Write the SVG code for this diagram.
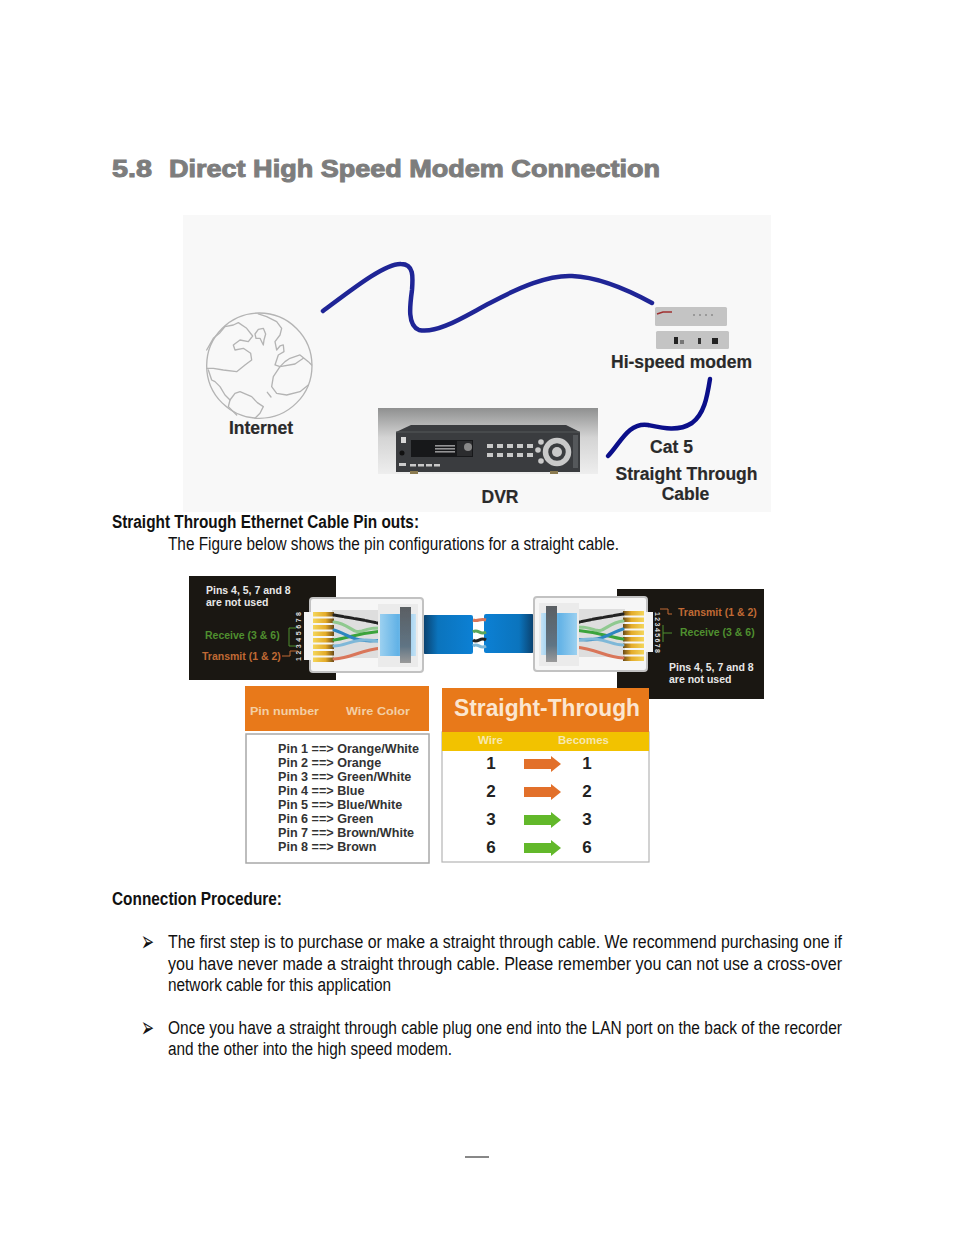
<svg xmlns="http://www.w3.org/2000/svg" width="954" height="1235" viewBox="0 0 954 1235">
<style>
text{font-family:"Liberation Sans",Arial,sans-serif}
.body{font-size:18px;fill:#111}
.bh{font-size:18px;font-weight:bold;fill:#111}
.lab{font-weight:bold;fill:#2a2a2a;font-size:17.500px;stroke:#2a2a2a;stroke-width:.2px}
.cable{fill:none;stroke:#1f2596;stroke-width:4.500px;stroke-linecap:round;stroke-linejoin:round}
.land{fill:none;stroke:#b4b4b4;stroke-width:4px;stroke-linejoin:round;stroke-linecap:round}
.pin{font-size:12.600px;font-weight:bold;fill:#333}
.num{font-size:17px;font-weight:bold;fill:#222;text-anchor:middle}
.sm{font-size:10.500px;font-weight:bold}
.wire{fill:none;stroke-width:3px;stroke-linecap:round}
.btn{fill:#c9c9c9}
.bul{font-size:28px;fill:#111}
</style>
<defs>
<linearGradient id="dvrBg" x1="0" y1="0" x2="0" y2="1"><stop offset="0" stop-color="#8f9090"/><stop offset=".45" stop-color="#d4d4d4"/><stop offset="1" stop-color="#eeeeee"/></linearGradient>
<linearGradient id="blueL" x1="0" y1="0" x2="1" y2="0"><stop offset="0" stop-color="#0a3f6b"/><stop offset=".3" stop-color="#0b74bd"/><stop offset="1" stop-color="#0c80d4"/></linearGradient>
<linearGradient id="blueR" x1="0" y1="0" x2="1" y2="0"><stop offset="0" stop-color="#0c80d4"/><stop offset=".7" stop-color="#0b74bd"/><stop offset="1" stop-color="#0a3f6b"/></linearGradient>
<linearGradient id="boot" x1="0" y1="0" x2="1" y2="0"><stop offset="0" stop-color="#9bd0f0"/><stop offset=".5" stop-color="#62b2e6"/><stop offset="1" stop-color="#c4e2f5"/></linearGradient>
<linearGradient id="latch" x1="0" y1="0" x2="0" y2="1"><stop offset="0" stop-color="#5a5f63"/><stop offset=".7" stop-color="#5f7484"/><stop offset="1" stop-color="#9a9a9a"/></linearGradient>
<linearGradient id="goldpin" x1="0" y1="0" x2="1" y2="0"><stop offset="0" stop-color="#f4d65a"/><stop offset=".6" stop-color="#e4ab2a"/><stop offset="1" stop-color="#6a4a18"/></linearGradient>
<filter id="soft" x="-5%" y="-5%" width="110%" height="110%"><feGaussianBlur stdDeviation=".6"/></filter>
<g id="plug">
<rect x="0" y="0" width="113" height="74" rx="3" fill="#f6f6f6" stroke="#c2c2c2" stroke-width="2"/>
<path d="M22 12H72V60H22Z" fill="#dedede"/>
<g fill="url(#goldpin)">
<rect x="3" y="14" width="21" height="4.500"/><rect x="3" y="20.500" width="21" height="4.500"/><rect x="3" y="27" width="21" height="4.500"/><rect x="3" y="33.500" width="21" height="4.500"/><rect x="3" y="40" width="21" height="4.500"/><rect x="3" y="46.500" width="21" height="4.500"/><rect x="3" y="53" width="21" height="4.500"/><rect x="3" y="59.500" width="21" height="4.500"/>
</g>
<path class="wire" style="stroke:#222" stroke-dasharray="9 2" d="M24 17C40 20 50 21 72 26"/>
<path class="wire" style="stroke:#8fc98f" d="M24 24C40 26 42 36 52 33C60 30 64 30 72 30"/>
<path class="wire" style="stroke:#3aa33a" d="M24 42C38 40 44 36 72 33"/>
<path class="wire" style="stroke:#2f86c0" d="M24 32C38 36 44 46 72 42"/>
<path class="wire" style="stroke:#7fb8d8" d="M24 48C38 48 44 38 72 44"/>
<path class="wire" style="stroke:#d9765a" d="M24 61C42 60 50 52 72 50"/>
<rect x="68" y="6" width="40" height="63" fill="#ebebeb"/>
<rect x="70" y="16" width="36" height="42" fill="url(#boot)"/>
<rect x="90" y="9" width="11" height="56" fill="url(#latch)"/>
</g>
</defs>
<rect width="954" height="1235" fill="#fff"/>
<g id="title"><text x="112" y="177" font-size="24" font-weight="bold" fill="#7d7d7d" stroke="#7d7d7d" stroke-width="1" textLength="40" lengthAdjust="spacingAndGlyphs">5.8</text><text x="169" y="177" font-size="24" font-weight="bold" fill="#7d7d7d" stroke="#7d7d7d" stroke-width="1" textLength="491" lengthAdjust="spacingAndGlyphs">Direct High Speed Modem Connection</text></g>
<rect id="network-panel" x="183" y="215" width="588" height="297" fill="#f8f8f8"/>
<g id="internet">
<g transform="translate(180 210) scale(.3333)">
<circle cx="238" cy="467" r="158" class="land"/>
<path class="land" d="M80 420L100 385L120 368L135 350L160 345L175 338L200 355L218 378L205 395L180 390L160 405L165 420L190 415L212 430L215 450L195 465L170 485L130 480L100 475L80 475"/>
<path class="land" d="M85 480L95 510L105 515L120 530L135 555L150 570L165 550L180 545L215 560L232 578L250 590L240 610L225 625"/>
<path class="land" d="M150 570L145 590L170 615"/>
<path class="land" d="M235 312L260 320L290 335L305 355L300 375L285 395L290 420L300 408L310 405L312 425L295 435L285 465L300 470L315 455L330 445L360 435L385 455L395 465"/>
<path class="land" d="M300 470L345 462L370 445M300 470L280 500L275 530L290 550L320 555L360 545L385 525"/>
<path class="land" d="M225 372L235 358L250 355L257 372L252 390L250 405L240 385L228 385Z"/>
<path class="land" d="M262 547L273 561"/>
</g>
<text class="lab" x="261" y="434" text-anchor="middle">Internet</text>
</g>
<g id="dvr">
<rect x="378" y="408" width="220" height="66" fill="url(#dvrBg)"/>
<path d="M396 432L411 425H566L580 432V472H396Z" fill="#3a3c3f"/>
<path d="M396 432H580" stroke="#55585b"/>
<rect x="411" y="440" width="62" height="17" fill="#17181a"/>
<rect x="457" y="441" width="15" height="15" fill="#2b2c2e"/>
<circle cx="468" cy="447" r="4" fill="#888"/>
<g class="btn" opacity=".7"><rect x="435" y="445" width="20" height="1.600"/><rect x="435" y="448" width="20" height="1.600"/><rect x="435" y="451" width="20" height="1.600"/></g>
<rect x="401" y="437" width="5" height="6" fill="#d8d8d8"/>
<circle cx="402" cy="453" r="2.500" fill="#111"/>
<rect x="399" y="463" width="7" height="3" fill="#ccc"/>
<g class="btn"><rect x="410" y="464" width="6" height="2.500"/><rect x="418" y="464" width="6" height="2.500"/><rect x="426" y="464" width="6" height="2.500"/><rect x="434" y="464" width="6" height="2.500"/>
<rect x="487" y="444" width="6" height="4"/><rect x="497" y="444" width="6" height="4"/><rect x="507" y="444" width="6" height="4"/><rect x="517" y="444" width="6" height="4"/><rect x="527" y="444" width="6" height="4"/>
<rect x="487" y="453" width="6" height="4"/><rect x="497" y="453" width="6" height="4"/><rect x="507" y="453" width="6" height="4"/><rect x="517" y="453" width="6" height="4"/><rect x="527" y="453" width="6" height="4"/>
<circle cx="541" cy="442" r="2.800"/><circle cx="538" cy="450" r="2.800"/><circle cx="541" cy="461" r="2.800"/></g>
<circle cx="557" cy="452" r="11.500" fill="none" stroke="#c9c9c9" stroke-width="5.500"/>
<circle cx="557" cy="452" r="5" fill="#c9c9c9"/>
<path d="M573 435H578V468H573Z" fill="#55585b"/>
<rect x="410" y="471" width="8" height="3" fill="#8b7a50"/><rect x="550" y="471" width="8" height="3" fill="#8b7a50"/>
<text class="lab" x="500" y="503" text-anchor="middle">DVR</text>
</g>
<g id="modem">
<rect x="655" y="307" width="72" height="19" rx="1.500" fill="#c4c4c4"/>
<path d="M657 314L663 312H672" stroke="#a03030" stroke-width="1.500" fill="none"/>
<path d="M693 315H715" stroke="#999" stroke-width="2" stroke-dasharray="2 4"/>
<rect x="656" y="331" width="73" height="18" rx="1.500" fill="#c4c4c4"/>
<rect x="674" y="337" width="4" height="7" fill="#222"/><rect x="680" y="340" width="4" height="4" fill="#777"/><rect x="698" y="338" width="3" height="6" fill="#333"/><rect x="712" y="338" width="6" height="6" fill="#222"/>
<text class="lab" x="681.500" y="368" text-anchor="middle">Hi-speed modem</text>
</g>
<g id="cat5-label">
<text class="lab" x="671.500" y="453" text-anchor="middle">Cat 5</text>
<text class="lab" x="686.500" y="480" text-anchor="middle">Straight Through</text>
<text class="lab" x="685.500" y="500" text-anchor="middle">Cable</text>
</g>
<g id="connectors">
<path class="cable" d="M323 311C350 291 385 263 401 264C414 264 413 277 412 290C410 305 407 325 419 330C438 334 465 316 490 303C520 287 548 275 572 276C600 277 630 291 652 303"/>
<path class="cable" style="stroke:#0b0f8a" d="M710 379C707 398 704 414 692 423C678 432 662 428 648 425C628 422 620 444 608 456"/>
</g>
<text class="bh" x="112" y="528" textLength="307" lengthAdjust="spacingAndGlyphs">Straight Through Ethernet Cable Pin outs:</text>
<text class="body" x="168" y="550" textLength="451" lengthAdjust="spacingAndGlyphs">The Figure below shows the pin configurations for a straight cable.</text>
<g id="ethernet-plugs">
<rect x="189" y="576" width="147" height="104" fill="#1a1712"/>
<rect x="617" y="589" width="147" height="110" fill="#1a1712"/>
<rect x="423" y="615" width="50" height="39" rx="2" fill="url(#blueL)"/>
<rect x="484" y="614" width="50" height="39" rx="2" fill="url(#blueR)"/>
<g filter="url(#soft)">
<path d="M473 620C478 622 480 618 486 620" stroke="#d9765a" stroke-width="3" fill="none"/>
<path d="M473 632C478 628 480 636 486 632" stroke="#5aa55a" stroke-width="3" fill="none"/>
<path d="M473 640C478 644 480 636 486 640" stroke="#222" stroke-width="3" fill="none"/>
<path d="M473 646C478 642 480 650 486 646" stroke="#7fb8d8" stroke-width="3" fill="none"/>
</g>
<g filter="url(#soft)">
<use href="#plug" x="310" y="598"/>
<use href="#plug" transform="translate(647 597) scale(-1 1)"/>
</g>
<path d="M311 612H304V660H311" fill="#f4f4f4"/>
<path d="M646 612H653V652H646" fill="#f4f4f4"/>
<g fill="#e8e8e8" class="sm">
<text x="206" y="594">Pins 4, 5, 7 and 8</text>
<text x="206" y="606">are not used</text>
<text x="669" y="671">Pins 4, 5, 7 and 8</text>
<text x="669" y="683">are not used</text>
</g>
<g class="sm">
<text x="205" y="639" fill="#4f8f2f">Receive (3 &amp; 6)</text>
<text x="202" y="660" fill="#c06a35">Transmit (1 &amp; 2)</text>
<text x="678" y="616" fill="#c06a35">Transmit (1 &amp; 2)</text>
<text x="680" y="636" fill="#4f8f2f">Receive (3 &amp; 6)</text>
</g>
<text transform="translate(301 661) rotate(-90)" font-size="7" font-weight="bold" fill="#ddd" textLength="49">1 2 3 4 5 6 7 8</text>
<text transform="translate(655 612) rotate(90)" font-size="7" font-weight="bold" fill="#ddd" textLength="41">1 2 3 4 5 6 7 8</text>
<path d="M296 628H289V646H296" fill="none" stroke="#4f8f2f"/>
<path d="M282 656H290V651H298" fill="none" stroke="#c06a35"/>
<path d="M660 609H668V614H672" fill="none" stroke="#c06a35"/>
<path d="M663 625V642M663 633H672" fill="none" stroke="#4f8f2f"/>
</g>
<g id="pin-table">
<rect x="245" y="686" width="184" height="45" fill="#e8791a"/>
<text class="sm" x="250" y="715" fill="#f3cfa5" style="font-size:11.500px" textLength="69" lengthAdjust="spacingAndGlyphs">Pin number</text>
<text class="sm" x="346" y="715" fill="#f3cfa5" style="font-size:11.500px" textLength="64" lengthAdjust="spacingAndGlyphs">Wire Color</text>
<rect x="246" y="734" width="183" height="129" fill="#fff" stroke="#a8a8a8" stroke-width="1.500"/>
<text class="pin" x="278" y="753">Pin 1 ==&gt; Orange/White</text>
<text class="pin" x="278" y="767">Pin 2 ==&gt; Orange</text>
<text class="pin" x="278" y="781">Pin 3 ==&gt; Green/White</text>
<text class="pin" x="278" y="795">Pin 4 ==&gt; Blue</text>
<text class="pin" x="278" y="809">Pin 5 ==&gt; Blue/White</text>
<text class="pin" x="278" y="823">Pin 6 ==&gt; Green</text>
<text class="pin" x="278" y="837">Pin 7 ==&gt; Brown/White</text>
<text class="pin" x="278" y="851">Pin 8 ==&gt; Brown</text>
</g>
<g id="straight-through-table">
<rect x="442" y="732" width="207" height="130" fill="#fff" stroke="#b5b5b5" stroke-width="1.200"/>
<rect x="442" y="688" width="207" height="44" fill="#e8791a"/>
<rect x="442" y="732" width="207" height="19" fill="#f2c200"/>
<text x="454" y="716" font-size="24" font-weight="bold" fill="#fbe6d0" textLength="186" lengthAdjust="spacingAndGlyphs">Straight-Through</text>
<text class="sm" x="478" y="744" fill="#f6e7b0" textLength="25" lengthAdjust="spacingAndGlyphs">Wire</text>
<text class="sm" x="558" y="744" fill="#f6e7b0" textLength="51" lengthAdjust="spacingAndGlyphs">Becomes</text>
<text class="num" x="491" y="769">1</text><text class="num" x="587" y="769">1</text>
<text class="num" x="491" y="797">2</text><text class="num" x="587" y="797">2</text>
<text class="num" x="491" y="825">3</text><text class="num" x="587" y="825">3</text>
<text class="num" x="491" y="853">6</text><text class="num" x="587" y="853">6</text>
<path fill="#e2702a" d="M524 759H551V756L561 764L551 772V769H524Z"/>
<path fill="#e2702a" d="M524 787H551V784L561 792L551 800V797H524Z"/>
<path fill="#62b82a" d="M524 815H551V812L561 820L551 828V825H524Z"/>
<path fill="#62b82a" d="M524 843H551V840L561 848L551 856V853H524Z"/>
</g>
<text class="bh" x="112" y="905" textLength="170" lengthAdjust="spacingAndGlyphs">Connection Procedure:</text>
<g id="procedure">
<text class="bul" x="141" y="951" textLength="13" lengthAdjust="spacingAndGlyphs" style="font-family:'DejaVu Sans',sans-serif">➢</text>
<text class="body" x="168" y="948" textLength="674" lengthAdjust="spacingAndGlyphs">The first step is to purchase or make a straight through cable. We recommend purchasing one if</text>
<text class="body" x="168" y="970" textLength="674" lengthAdjust="spacingAndGlyphs">you have never made a straight through cable. Please remember you can not use a cross-over</text>
<text class="body" x="168" y="991" textLength="223" lengthAdjust="spacingAndGlyphs">network cable for this application</text>
<text class="bul" x="141" y="1037" textLength="13" lengthAdjust="spacingAndGlyphs" style="font-family:'DejaVu Sans',sans-serif">➢</text>
<text class="body" x="168" y="1034" textLength="674" lengthAdjust="spacingAndGlyphs">Once you have a straight through cable plug one end into the LAN port on the back of the recorder</text>
<text class="body" x="168" y="1055" textLength="284" lengthAdjust="spacingAndGlyphs">and the other into the high speed modem.</text>
</g>
<path id="page-rule" d="M465 1157H489" stroke="#111" stroke-width="1"/>
</svg>
